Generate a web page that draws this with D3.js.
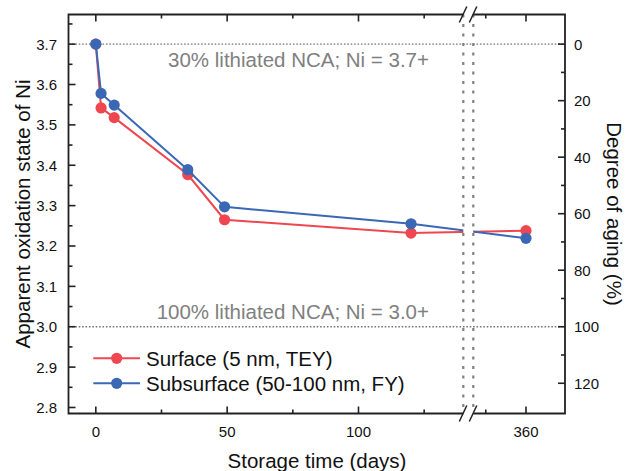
<!DOCTYPE html>
<html>
<head>
<meta charset="utf-8">
<script src="https://cdn.jsdelivr.net/npm/d3@7"></script>
<style>
  body { margin: 0; background: #fff; }
  svg { display: block; font-family: "Liberation Sans", Arial, sans-serif; }
</style>
</head>
<body>
<div id="chart"></div>
<script>
// Storage days and Ni oxidation states
const days = [0, 2, 7, 35, 49, 120, 360];
const surfaceOx = [3.700, 3.542, 3.518, 3.377, 3.265, 3.232, 3.238];
const subsurfaceOx = [3.700, 3.578, 3.549, 3.389, 3.297, 3.255, 3.219];

const seriesNames = ["Surface (5 nm, TEY)", "Subsurface (50-100 nm, FY)"];
const seriesColors = ["#ef474f", "#3b68b5"];

const yTicks = [2.8, 2.9, 3.0, 3.1, 3.2, 3.3, 3.4, 3.5, 3.6, 3.7];
const yMinorTicks = [2.85, 2.95, 3.05, 3.15, 3.25, 3.35, 3.45, 3.55, 3.65, 3.75];
const agingTicks = [0, 20, 40, 60, 80, 100, 120];
const agingMinorTicks = [10, 30, 50, 70, 90, 110];
const xTicksLeft = [0, 50, 100];
const xMinorLeft = [25, 75, 125];
const xTicksRight = [360];
const xMinorRight = [350];

const refValues = [3.7, 3.0];
const refLabels = ["30% lithiated NCA; Ni = 3.7+", "100% lithiated NCA; Ni = 3.0+"];
const breakDay = 140;

const width = 627, height = 471;
const plotLeft = 68.5, plotRight = 565, plotTop = 14.5, plotBottom = 413.5;
const breakX0 = 463.3, breakX1 = 473.3;
const refLabelDy = [23.2, -7.8];

const svg = d3.select("#chart").append("svg")
  .attr("width", width).attr("height", height);

// scales
const yMin = 2.7851, yMax = 3.7734;
const y = d3.scaleLinear().domain([yMin, yMax]).range([plotBottom, plotTop]);
const yAging = d3.scaleLinear()
  .domain([(3.7 - yMin) / 0.007, (3.7 - yMax) / 0.007])
  .range([plotBottom, plotTop]);
const xA = d3.scaleLinear().domain([-10.4, 139.9]).range([plotLeft, breakX0]);
const xB = d3.scaleLinear().domain([346.9, 369.7]).range([breakX1, plotRight]);
const xPos = d => d <= breakDay ? xA(d) : xB(d);

const axisColor = "#222";

// reference dotted lines
svg.selectAll("line.ref").data(refValues).enter().append("line")
  .attr("x1", plotLeft).attr("x2", plotRight)
  .attr("y1", d => y(d)).attr("y2", d => y(d))
  .attr("stroke", "#777").attr("stroke-width", 1.4)
  .attr("stroke-dasharray", "1.6,1.8");

svg.selectAll("text.ref").data(refValues).enter().append("text")
  .attr("x", 429)
  .attr("y", (d, i) => y(d) + refLabelDy[i])
  .attr("text-anchor", "end")
  .attr("font-size", 20.5)
  .attr("fill", "#808080")
  .text((d, i) => refLabels[i]);

// vertical dotted lines at the break
svg.selectAll("line.brk").data([breakX0, breakX1]).enter().append("line")
  .attr("x1", d => d).attr("x2", d => d)
  .attr("y1", plotTop).attr("y2", plotBottom)
  .attr("stroke", "#808080").attr("stroke-width", 2.2)
  .attr("stroke-dasharray", "3,6.5");

// clip out the gap of the break
const clip = svg.append("clipPath").attr("id", "gapclip");
clip.append("rect").attr("x", 0).attr("y", 0).attr("width", breakX0).attr("height", height);
clip.append("rect").attr("x", breakX1).attr("y", 0).attr("width", width - breakX1).attr("height", height);

const line = d3.line().x(d => xPos(d[0])).y(d => y(d[1]));
const seriesData = [surfaceOx, subsurfaceOx].map(vals => days.map((d, i) => [d, vals[i]]));

seriesData.forEach((pts, si) => {
  const g = svg.append("g");
  g.append("path")
    .attr("d", line(pts))
    .attr("fill", "none")
    .attr("stroke", seriesColors[si])
    .attr("stroke-width", 2)
    .attr("clip-path", "url(#gapclip)");
  g.selectAll("circle").data(pts).enter().append("circle")
    .attr("cx", d => xPos(d[0]))
    .attr("cy", d => y(d[1]))
    .attr("r", 5.6)
    .attr("fill", seriesColors[si]);
});

// frame with gaps for the break
const frame = svg.append("g").attr("stroke", axisColor).attr("stroke-width", 1.8).attr("fill", "none");
frame.append("path").attr("d",
  `M${breakX0},${plotTop}H${plotLeft}V${plotBottom}H${breakX0}` +
  `M${breakX1},${plotTop}H${plotRight}V${plotBottom}H${breakX1}`);

// break slashes
[plotTop, plotBottom].forEach(yy => {
  [breakX0, breakX1].forEach(xx => {
    frame.append("line")
      .attr("x1", xx - 4).attr("y1", yy + 8)
      .attr("x2", xx + 3.5).attr("y2", yy - 8)
      .attr("stroke-width", 1.5);
  });
});

// ticks (all pointing inward)
const tickG = svg.append("g").attr("stroke", axisColor).attr("stroke-width", 1.6);
const majorLen = 7, minorLen = 4;

function yTick(vals, len) {
  vals.forEach(v => {
    const yy = y(v);
    tickG.append("line").attr("x1", plotLeft).attr("x2", plotLeft + len).attr("y1", yy).attr("y2", yy);
  });
}
yTick(yTicks, majorLen);
yTick(yMinorTicks, minorLen);

function agingTick(vals, len) {
  vals.forEach(v => {
    const yy = yAging(v);
    tickG.append("line").attr("x1", plotRight).attr("x2", plotRight - len).attr("y1", yy).attr("y2", yy);
  });
}
agingTick(agingTicks, majorLen);
agingTick(agingMinorTicks, minorLen);

function xTick(vals, len) {
  vals.forEach(v => {
    const xx = xPos(v);
    tickG.append("line").attr("x1", xx).attr("x2", xx).attr("y1", plotBottom).attr("y2", plotBottom - len);
    tickG.append("line").attr("x1", xx).attr("x2", xx).attr("y1", plotTop).attr("y2", plotTop + len);
  });
}
xTick(xTicksLeft.concat(xTicksRight), majorLen);
xTick(xMinorLeft.concat(xMinorRight), minorLen);

// tick labels
const fmt = d3.format(".1f");
svg.selectAll("text.yl").data(yTicks).enter().append("text")
  .attr("x", plotLeft - 11.5).attr("y", d => y(d)).attr("dy", "0.36em")
  .attr("text-anchor", "end").attr("font-size", 15).attr("fill", "#111")
  .text(d => fmt(d));

svg.selectAll("text.al").data(agingTicks).enter().append("text")
  .attr("x", plotRight + 9).attr("y", d => yAging(d)).attr("dy", "0.36em")
  .attr("text-anchor", "start").attr("font-size", 15).attr("fill", "#111")
  .text(d => d);

svg.selectAll("text.xl").data(xTicksLeft.concat(xTicksRight)).enter().append("text")
  .attr("x", d => xPos(d)).attr("y", 436.5)
  .attr("text-anchor", "middle").attr("font-size", 15).attr("fill", "#111")
  .text(d => d);

// axis titles
svg.append("text")
  .attr("transform", `translate(30,214) rotate(-90)`)
  .attr("text-anchor", "middle").attr("font-size", 20.5).attr("fill", "#111")
  .text("Apparent oxidation state of Ni");

svg.append("text")
  .attr("transform", `translate(607,214) rotate(90)`)
  .attr("text-anchor", "middle").attr("font-size", 20.5).attr("fill", "#111")
  .text("Degree of aging (%)");

svg.append("text")
  .attr("x", 317).attr("y", 467.5)
  .attr("text-anchor", "middle").attr("font-size", 20.5).attr("fill", "#111")
  .text("Storage time (days)");

// legend
const legend = svg.append("g");
seriesNames.forEach((name, i) => {
  const yy = 358.3 + i * 25;
  legend.append("line")
    .attr("x1", 93.3).attr("x2", 140).attr("y1", yy).attr("y2", yy)
    .attr("stroke", seriesColors[i]).attr("stroke-width", 2);
  legend.append("circle")
    .attr("cx", 116.7).attr("cy", yy).attr("r", 5.6).attr("fill", seriesColors[i]);
  legend.append("text")
    .attr("x", 146).attr("y", yy + 7.3)
    .attr("font-size", 20.5).attr("fill", "#111")
    .text(name);
});
</script>
</body>
</html>
